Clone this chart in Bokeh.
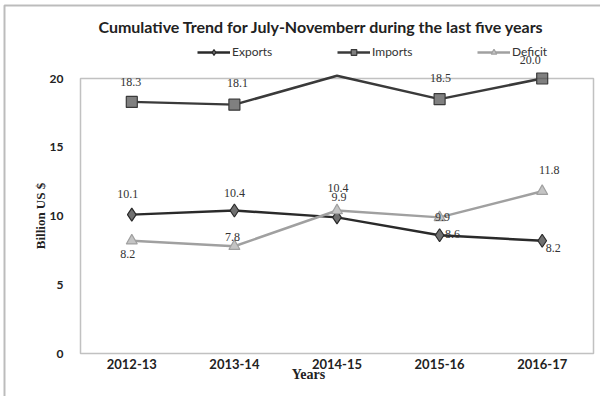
import math
from bokeh.plotting import figure
from bokeh.models import (ColumnDataSource, Range1d, Label, LabelSet, Legend,
                          LegendItem, BoxAnnotation)
from bokeh.core.properties import value
from bokeh.embed import file_html
from bokeh.resources import INLINE

# ---------------- data ----------------
years = ["2012-13", "2013-14", "2014-15", "2015-16", "2016-17"]
exports = [10.1, 10.4, 9.9, 8.6, 8.2]
imports = [18.3, 18.1, 20.2, 18.5, 20.0]
deficit = [8.2, 7.8, 10.4, 9.9, 11.8]
y_ticks = [0, 5, 10, 15, 20]
y_max = 20

# ---------------- layout (pixels) ----------------
W, H = 600, 396
BOX_L, BOX_R, BOX_T, BOX_B = 80, 593, 78, 353
n = len(years)
px_x = (BOX_R - BOX_L) / n
px_y = (BOX_B - BOX_T) / y_max
x_range = Range1d(-BOX_L / px_x, n + (W - BOX_R) / px_x)
y_range = Range1d(-(H - BOX_B) / px_y, y_max + BOX_T / px_y)

# label offsets (pixels) per point: style only
exp_off = [(-4, 21), (0, 18), (2, 20), (13, 1), (11, -7)]
imp_off = [(-1, 20), (3, 22), (0, 20), (1, 21), (-12, 19)]
def_off = [(-4, -13), (-2, 9), (1, 23), (3, 0), (7, 21)]

p = figure(x_range=x_range, y_range=y_range, width=W, height=H,
           output_backend="svg", toolbar_location=None, title=None,
           x_axis_location=None, y_axis_location=None, min_border=0)
p.background_fill_color = "white"
p.border_fill_color = "white"
p.outline_line_color = None
p.xgrid.visible = False
p.ygrid.visible = False

xs = [i + 0.5 for i in range(n)]

# chart box (0..y_max)
p.add_layout(BoxAnnotation(left=0, right=n, bottom=0, top=y_max,
                           fill_alpha=0, line_color="#333333", line_width=1.5))
# outer frame of the picture
p.add_layout(BoxAnnotation(left=4, right=W + 20, bottom=-20, top=H - 5,
                           left_units="screen", right_units="screen",
                           bottom_units="screen", top_units="screen",
                           fill_alpha=0, line_color="#222222", line_width=2))

series = [
    ("Exports", exports, "#2a2a2a", "diamond", "#707070", 13, exp_off),
    ("Imports", imports, "#3a3a3a", "square", "#808080", 11, imp_off),
    ("Deficit", deficit, "#a0a0a0", "triangle", "#c4c4c4", 11, def_off),
]

items = []
for name, vals, col, mk, fill, size, offs in series:
    src = ColumnDataSource(dict(x=xs, y=vals))
    r1 = p.line("x", "y", source=src, line_color=col, line_width=2.5)
    vis = [i for i, v in enumerate(vals) if v <= y_max]   # beyond axis max: hidden
    msrc = ColumnDataSource(dict(x=[xs[i] for i in vis], y=[vals[i] for i in vis]))
    r2 = p.scatter("x", "y", source=msrc, marker=mk, size=size,
                   fill_color=fill, line_color=col, line_width=1.2)
    items.append(LegendItem(label=name, renderers=[r1, r2]))
    lsrc = ColumnDataSource(dict(
        x=[xs[i] for i in vis], y=[vals[i] for i in vis],
        txt=[f"{vals[i]:.1f}" for i in vis],
        xo=[offs[i][0] for i in vis], yo=[offs[i][1] for i in vis]))
    p.add_layout(LabelSet(x="x", y="y", text="txt", source=lsrc,
                          x_offset="xo", y_offset="yo",
                          text_align="center", text_baseline="middle",
                          text_font=value("Liberation Serif"),
                          text_font_size="12px", text_color="#333333"))

# y tick labels
ysrc = ColumnDataSource(dict(x=[BOX_L - 17] * len(y_ticks), y=y_ticks,
                             txt=[str(t) for t in y_ticks]))
p.add_layout(LabelSet(x="x", y="y", text="txt", source=ysrc, x_units="screen",
                      text_align="right", text_baseline="middle",
                      text_font=value("Lato"), text_font_style="bold",
                      text_font_size="12px", text_color="#222222"))
# x tick labels
xsrc = ColumnDataSource(dict(x=xs, y=[H - 363] * n, txt=years))
p.add_layout(LabelSet(x="x", y="y", text="txt", source=xsrc, y_units="screen",
                      text_align="center", text_baseline="middle",
                      text_font=value("Lato"), text_font_style="bold",
                      text_font_size="13px", text_color="#222222"))
# axis titles
p.add_layout(Label(x=40, y=H - (BOX_T + BOX_B) / 2, x_units="screen", y_units="screen",
                   text="Billion US $", angle=math.pi / 2, text_align="center",
                   text_baseline="middle", text_font="Liberation Serif",
                   text_font_style="bold", text_font_size="13px",
                   text_color="#222222"))
p.add_layout(Label(x=308, y=H - 374, x_units="screen", y_units="screen",
                   text="Years", text_align="center", text_baseline="middle",
                   text_font="Liberation Serif", text_font_style="bold",
                   text_font_size="14px", text_color="#222222"))
# chart title
p.add_layout(Label(x=323, y=H - 26, x_units="screen", y_units="screen",
                   text="Cumulative Trend for July-Novemberr  during the last five years",
                   text_align="center", text_baseline="middle",
                   text_font="Lato", text_font_style="bold",
                   text_font_size="16px", text_color="#222222"))

legend = Legend(items=items, orientation="horizontal", location=(197, H - 59),
                border_line_color=None, background_fill_alpha=0,
                label_text_font="Lato", label_text_font_size="12px",
                label_text_color="#333333", spacing=10, glyph_width=33,
                label_standoff=2, label_width=95, padding=0, margin=0,
                glyph_height=14, label_height=14)
p.add_layout(legend, "center")

open("out.html", "w").write(file_html(p, INLINE))
